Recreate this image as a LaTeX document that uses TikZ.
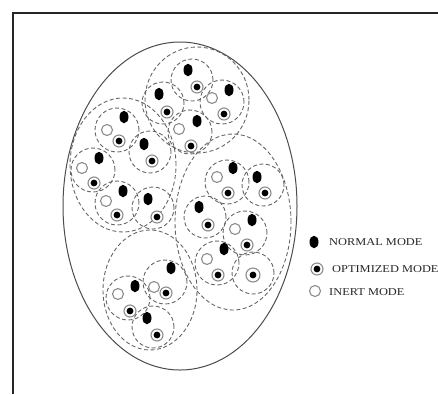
\documentclass[tikz,border=0pt]{standalone}
\usepackage{fontspec}
\setmainfont{Liberation Serif}
\usetikzlibrary{shapes.geometric}
\begin{document}
\begin{tikzpicture}[x=1pt,y=-1pt,
  field/.style={ellipse, draw=black!70, line width=1pt, inner sep=0pt},
  cluster/.style={ellipse, draw=black!60, line width=0.9pt, dash pattern=on 4pt off 2.5pt, inner sep=0pt},
  sub/.style={circle, draw=black!60, line width=0.9pt, dash pattern=on 4pt off 2.5pt, minimum size=42pt, inner sep=0pt},
  normal/.style={ellipse, fill=black, minimum width=9pt, minimum height=12.5pt, inner sep=0pt},
  optim/.style={circle, draw=black!45, line width=1.1pt, fill=white, minimum size=12pt, inner sep=0pt,
     path picture={\fill[black] (path picture bounding box.center) circle (3.4pt);}},
  inert/.style={circle, draw=black!45, line width=1.1pt, fill=white, minimum size=11pt, inner sep=0pt},
  legtext/.style={anchor=west, inner sep=0pt, text=black!85, font=\fontsize{10.5}{12}\selectfont}
]
\useasboundingbox (0,0) rectangle (438,394);
% frame
\draw[black!85, line width=1.2pt] (13,394) -- (13,13) -- (438,13);
% field
\node[field, minimum width=234pt, minimum height=328pt] (field) at (180,206) {};
% clusters
\node[cluster, minimum width=104pt, minimum height=106pt] (ctop) at (197,100) {};
\node[cluster, minimum width=106pt, minimum height=134pt] (cleft) at (123,165) {};
\node[cluster, minimum width=116pt, minimum height=176pt] (cright) at (233,222) {};
\node[cluster, minimum width=94pt, minimum height=120pt] (cbot) at (150,290) {};
% sub circles
\node[sub] (sA) at (192,80) {};
\node[sub] (sB) at (163,103) {};
\node[sub, minimum size=44pt] (sC) at (222,102) {};
\node[sub, minimum size=44pt] (sD) at (190,132) {};
\node[sub, minimum size=44pt] (sE) at (117,130) {};
\node[sub] (sF) at (150,152) {};
\node[sub, minimum size=44pt] (sG) at (93,170) {};
\node[sub, minimum size=44pt] (sH) at (117,203) {};
\node[sub] (sI) at (153,208) {};
\node[sub, minimum size=44pt] (sJ) at (227,182) {};
\node[sub] (sK) at (263,185) {};
\node[sub] (sL) at (205,217) {};
\node[sub, minimum size=44pt] (sM) at (245,233) {};
\node[sub, minimum size=44pt] (sN) at (217,263) {};
\node[sub] (sO) at (253,273) {};
\node[sub, minimum size=44pt] (sP) at (128,298) {};
\node[sub, minimum size=44pt] (sQ) at (165,282) {};
\node[sub] (sR) at (153,327) {};
% devices
\node[normal] (nA) at (188,70) {};  \node[optim] (oA) at (197,87) {};
\node[normal] (nB) at (159,94) {};  \node[optim] (oB) at (167,112) {};
\node[inert] (iC) at (212,98) {};   \node[normal] (nC) at (229,90) {};  \node[optim] (oC) at (224,114) {};
\node[inert] (iD) at (179,129) {};  \node[normal] (nD) at (197,121) {}; \node[optim] (oD) at (191,146) {};
\node[inert] (iE) at (107,130) {};  \node[normal] (nE) at (124,117) {}; \node[optim] (oE) at (119,141) {};
\node[normal] (nF) at (144,144) {}; \node[optim] (oF) at (152,161) {};
\node[inert] (iG) at (82,168) {};   \node[normal] (nG) at (99,158) {};  \node[optim] (oG) at (94,183) {};
\node[inert] (iH) at (106,201) {};  \node[normal] (nH) at (123,191) {}; \node[optim] (oH) at (117,215) {};
\node[normal] (nI) at (148,199) {}; \node[optim] (oI) at (157,217) {};
\node[inert] (iJ) at (217,177) {};  \node[normal] (nJ) at (233,168) {}; \node[optim] (oJ) at (228,193) {};
\node[normal] (nK) at (257,177) {}; \node[optim] (oK) at (265,193) {};
\node[normal] (nL) at (199,207) {}; \node[optim] (oL) at (208,225) {};
\node[inert] (iM) at (235,229) {};  \node[normal] (nM) at (252,220) {}; \node[optim] (oM) at (247,245) {};
\node[inert] (iN) at (207,259) {};  \node[normal] (nN) at (224,249) {}; \node[optim] (oN) at (218,275) {};
\node[optim, minimum size=14pt] (oO) at (253,275) {};
\node[inert] (iP) at (118,294) {};  \node[normal] (nP) at (135,286) {}; \node[optim] (oP) at (130,311) {};
\node[inert] (iQ) at (154,287) {};  \node[normal] (nQ) at (171,268) {}; \node[optim] (oQ) at (166,293) {};
\node[normal] (nR) at (147,318) {}; \node[optim] (oR) at (157,335) {};
% legend
\node[normal] (lgN) at (314,242) {};
\node[optim] (lgO) at (317,269) {};
\node[inert] (lgI) at (315,291) {};
\node[legtext] (tN) at (329,242) {\scalebox{1.18}[1]{NORMAL MODE}};
\node[legtext] (tO) at (332,269) {\scalebox{1.18}[1]{OPTIMIZED MODE}};
\node[legtext] (tI) at (329,292) {\scalebox{1.18}[1]{INERT MODE}};
\end{tikzpicture}
\end{document}
